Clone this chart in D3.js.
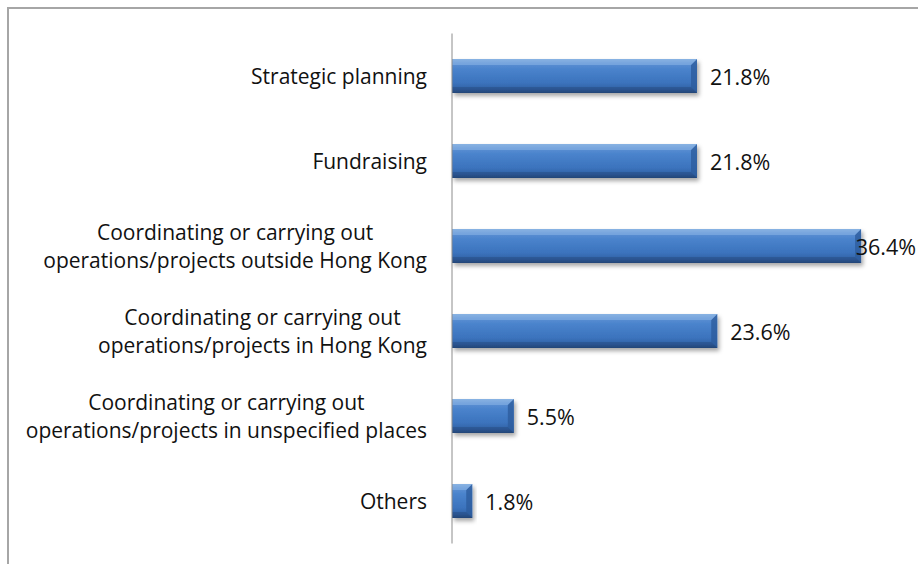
<!DOCTYPE html>
<html>
<head>
<meta charset="utf-8">
<script src="https://cdn.jsdelivr.net/npm/d3@7"></script>
<style>
  body { margin: 0; background: #fff; }
  text { font-family: "Open Sans", sans-serif; fill: #111; }
</style>
</head>
<body>
<div id="chart"></div>
<script>
// categories (each entry = label lines) and values in percent
const categories = [
    ["Strategic planning"],
    ["Fundraising"],
    ["Coordinating or carrying out", "operations/projects outside Hong Kong"],
    ["Coordinating or carrying out", "operations/projects in Hong Kong"],
    ["Coordinating or carrying out", "operations/projects in unspecified places"],
    ["Others"]
];
const values = [21.8, 21.8, 36.4, 23.6, 5.5, 1.8];
const valueLabels = ["21.8%", "21.8%", "36.4%", "23.6%", "5.5%", "1.8%"];

const width = 918;
const height = 564;
const axisX = 452;

const svg = d3.select("#chart")
    .append("svg")
    .attr("width", width)
    .attr("height", height);

const defs = svg.append("defs");

// bar gradient, light top to dark bottom
const grad = defs.append("linearGradient")
    .attr("id", "barGrad")
    .attr("x1", 0).attr("y1", 0).attr("x2", 0).attr("y2", 1);
grad.append("stop").attr("offset", "0%").attr("stop-color", "#7aa7dc");
grad.append("stop").attr("offset", "12%").attr("stop-color", "#5b90d3");
grad.append("stop").attr("offset", "30%").attr("stop-color", "#4a83cc");
grad.append("stop").attr("offset", "70%").attr("stop-color", "#3b73bd");
grad.append("stop").attr("offset", "88%").attr("stop-color", "#3263a7");
grad.append("stop").attr("offset", "100%").attr("stop-color", "#24497c");

const shadow = defs.append("filter")
    .attr("id", "shadow")
    .attr("x", "-10%").attr("y", "-20%")
    .attr("width", "130%").attr("height", "160%");
shadow.append("feDropShadow")
    .attr("dx", 2).attr("dy", 3)
    .attr("stdDeviation", 2.2)
    .attr("flood-color", "#000")
    .attr("flood-opacity", 0.35);

// outer chart border
svg.append("rect")
    .attr("x", 8).attr("y", 8)
    .attr("width", width + 10).attr("height", height + 10)
    .attr("fill", "none")
    .attr("stroke", "#a6a6a6")
    .attr("stroke-width", 2);

//scales
const x = d3.scaleLinear()
    .domain([0, 21.8])
    .range([axisX, 697]);

const y = d3.scaleBand()
    .domain(d3.range(categories.length))
    .range([33.5, 543.5])
    .paddingInner(0.6)
    .paddingOuter(0.3);

//bars
const bars = svg.selectAll("g.bar")
    .data(values)
    .enter()
    .append("g")
    .attr("class", "bar");

bars.append("rect")
    .attr("x", axisX)
    .attr("y", (d, i) => y(i))
    .attr("width", d => x(d) - axisX)
    .attr("height", y.bandwidth())
    .attr("fill", "url(#barGrad)")
    .attr("filter", "url(#shadow)");

// bevel on the bar end
const bev = 6;
bars.append("path")
    .attr("d", (d, i) => {
        const x1 = x(d), y0 = y(i), h = y.bandwidth();
        return `M${x1 - bev},${y0 + bev} L${x1},${y0} L${x1},${y0 + h} L${x1 - bev},${y0 + h - bev} Z`;
    })
    .attr("fill", "#2d5d9d")
    .attr("opacity", 0.8);
bars.append("path")
    .attr("d", (d, i) => {
        const x1 = x(d), y0 = y(i);
        return `M${axisX},${y0} L${x1},${y0} L${x1 - bev},${y0 + bev} L${axisX},${y0 + bev} Z`;
    })
    .attr("fill", "#9cc0ea")
    .attr("opacity", 0.45);
bars.append("path")
    .attr("d", (d, i) => {
        const x1 = x(d), y0 = y(i), h = y.bandwidth();
        return `M${axisX},${y0 + h} L${x1},${y0 + h} L${x1 - bev},${y0 + h - bev} L${axisX},${y0 + h - bev} Z`;
    })
    .attr("fill", "#1f3f6e")
    .attr("opacity", 0.35);

// vertical axis line
svg.append("line")
    .attr("x1", axisX).attr("x2", axisX)
    .attr("y1", y.range()[0]).attr("y2", y.range()[1])
    .attr("stroke", "#8c8c8c")
    .attr("stroke-width", 1);

// category labels
const lineH = 28;
const labels = svg.selectAll("text.cat")
    .data(categories)
    .enter()
    .append("text")
    .attr("class", "cat")
    .attr("font-size", 21)
    .attr("text-anchor", "middle");

labels.each(function(lines, i) {
    const t = d3.select(this);
    const cy = y(i) + y.bandwidth() / 2;
    lines.forEach((ln, j) => {
        t.append("tspan")
            .attr("x", 0)
            .attr("y", cy + (j - (lines.length - 1) / 2) * lineH)
            .attr("dominant-baseline", "central")
            .text(ln);
    });
    let maxW = 0;
    t.selectAll("tspan").each(function() {
        maxW = Math.max(maxW, this.getComputedTextLength());
    });
    const cx = 427 - maxW / 2;
    t.selectAll("tspan").attr("x", cx);
});

// value labels
svg.selectAll("text.val")
    .data(values)
    .enter()
    .append("text")
    .attr("class", "val")
    .attr("font-size", 21.5)
    .attr("dominant-baseline", "central")
    .attr("y", (d, i) => y(i) + y.bandwidth() / 2)
    .text((d, i) => valueLabels[i])
    .attr("x", function(d) {
        const w = this.getComputedTextLength();
        return Math.min(x(d) + 13, width - w - 2);
    });
</script>
</body>
</html>
